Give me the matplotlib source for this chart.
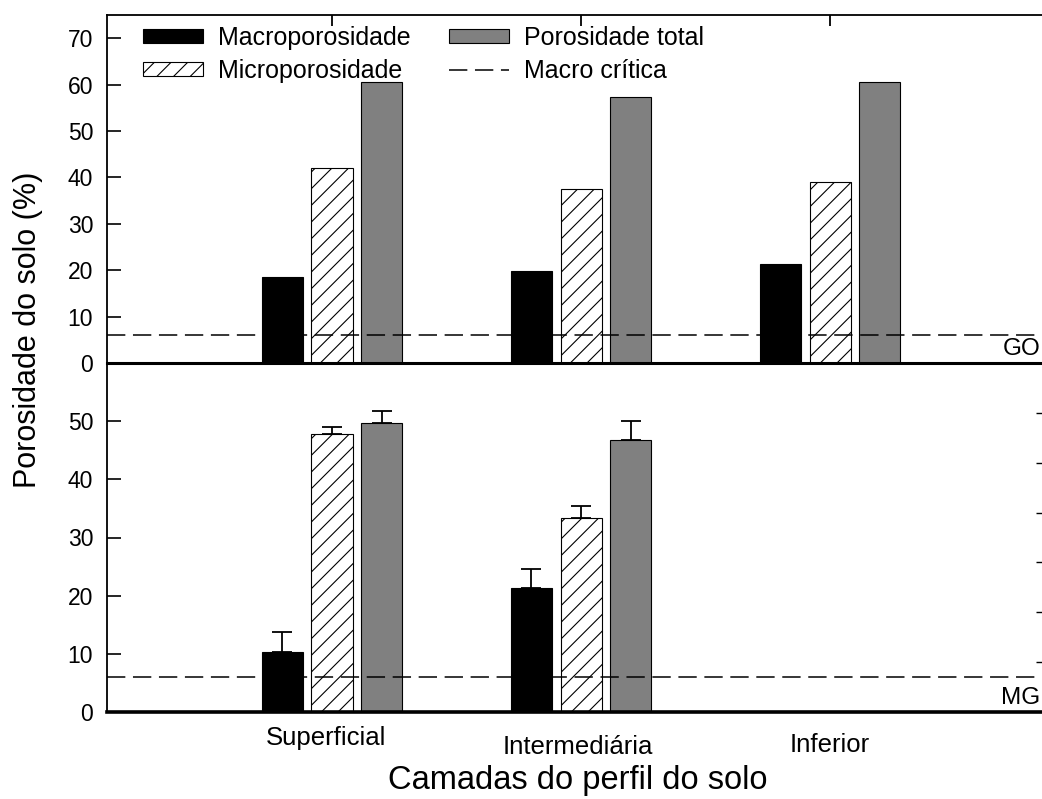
import matplotlib
matplotlib.use("Agg")
import matplotlib.pyplot as plt
import matplotlib.transforms as mtransforms
import numpy as np
from matplotlib.patches import Patch
from matplotlib.lines import Line2D

plt.rcParams['font.family'] = ['Liberation Sans', 'DejaVu Sans']
plt.rcParams['hatch.linewidth'] = 0.8

# ---- data ----
categories = ["Superficial", "Intermediária", "Inferior"]
series_names = ["Macroporosidade", "Microporosidade", "Porosidade total"]
go_macro = [18.5, 19.8, 21.3]
go_micro = [42.0, 37.5, 39.0]
go_total = [60.5, 57.3, 60.5]
mg_macro = [10.4, 21.4, np.nan]
mg_micro = [47.8, 33.4, np.nan]
mg_total = [49.7, 46.8, np.nan]
mg_macro_err = [3.3, 3.1, np.nan]
mg_micro_err = [1.2, 2.0, np.nan]
mg_total_err = [2.0, 3.2, np.nan]
macro_critica = 6.0
top_yticks = [0, 10, 20, 30, 40, 50, 60, 70]
bottom_yticks = [0, 10, 20, 30, 40, 50]
right_yticks = [10, 20, 30, 40, 50, 60]
panel_labels = ["GO", "MG"]

W, H = 1042, 799
fig = plt.figure(figsize=(W / 100, H / 100), dpi=100)

left = 107 / W
right = 1.0
ax_bot = fig.add_axes([left, 1 - 712 / H, right - left, (712 - 363) / H])
ax_top = fig.add_axes([left, 1 - 363 / H, right - left, (363 - 15) / H])
ax_top.patch.set_visible(False)

x = np.arange(1, len(categories) + 1)
off = 0.199
bw = 0.165
HATCH = '//'
styles = [dict(color='black', edgecolor='black'),
          dict(color='white', edgecolor='black', hatch=HATCH),
          dict(color='#808080', edgecolor='black')]

for ax, data in [(ax_top, [go_macro, go_micro, go_total]),
                 (ax_bot, [mg_macro, mg_micro, mg_total])]:
    for i, (vals, st) in enumerate(zip(data, styles)):
        ax.bar(x + (i - 1) * off, vals, width=bw, linewidth=0.8, zorder=2, **st)
    ax.axhline(macro_critica, color='black', lw=1.1, ls=(0, (12, 5)), zorder=3)
    ax.set_xlim(0.0964, 3.851)
    ax.spines['right'].set_visible(False)
    ax.spines['left'].set_linewidth(1.3)
    ax.tick_params(axis='y', direction='in', length=10, width=1.2, pad=10,
                   labelsize=16.5)

# error bars (upper only)
for i, (vals, err) in enumerate(zip([mg_macro, mg_micro, mg_total],
                                    [mg_macro_err, mg_micro_err, mg_total_err])):
    err = np.array(err)
    ax_bot.errorbar(x + (i - 1) * off, vals, yerr=[np.zeros_like(err), err],
                    fmt='none', ecolor='black', elinewidth=1.3, capsize=7,
                    capthick=1.3, zorder=4)

# top panel axes
ax_top.set_ylim(0, 75)
ax_top.set_yticks(top_yticks)
ax_top.spines['top'].set_linewidth(1.3)
ax_top.spines['bottom'].set_linewidth(2.2)
ax_top.set_xticks(x)
ax_top.tick_params(axis='x', which='both', direction='in', length=8, width=1.3,
                   top=True, bottom=False, labeltop=False, labelbottom=False)

# bottom panel axes
ax_bot.set_ylim(0, 60)
ax_bot.set_yticks(bottom_yticks)
ax_bot.spines['top'].set_visible(False)
ax_bot.spines['bottom'].set_linewidth(2.6)
ax_bot.set_xticks(x)
ax_bot.set_xticklabels([])
ax_bot.tick_params(axis='x', length=0)

# staggered category labels
label_y_px = [738, 747, 745]
label_x = [0.975, 1.985, 3.0]
lab_tr = mtransforms.blended_transform_factory(ax_bot.transData, fig.transFigure)
for xi, lab, ypx in zip(label_x, categories, label_y_px):
    ax_bot.text(xi, 1 - ypx / H, lab, transform=lab_tr,
                ha='center', va='center', fontsize=18.5)

# right-side ticks on bottom panel
ax_r = ax_bot.twinx()
ax_r.patch.set_visible(False)
ax_r.set_ylim(0, 70)
ax_r.set_yticks(right_yticks)
ax_r.tick_params(axis='y', direction='in', length=4, width=1.0, labelright=False)
for s in ax_r.spines.values():
    s.set_visible(False)

# panel labels
ax_top.text(0.998, 0.008, panel_labels[0], transform=ax_top.transAxes,
            ha='right', va='bottom', fontsize=17.5)
ax_bot.text(0.998, 0.008, panel_labels[1], transform=ax_bot.transAxes,
            ha='right', va='bottom', fontsize=17.5)

# axis labels
fig.text(28 / W, 1 - 330 / H, "Porosidade do solo (%)", rotation=90,
         ha='center', va='center', fontsize=22)
fig.text(578 / W, 1 - 780 / H, "Camadas do perfil do solo",
         ha='center', va='center', fontsize=23.5)

# legend
handles = [Patch(facecolor='black', edgecolor='black', lw=0.8),
           Patch(facecolor='white', edgecolor='black', hatch=HATCH, lw=0.8),
           Patch(facecolor='#808080', edgecolor='black', lw=0.8),
           Line2D([0], [0], color='black', lw=1.1, ls=(0, (12, 5)))]
labels = series_names + ["Macro crítica"]
leg = ax_top.legend(handles, labels, ncol=2, loc='upper left',
                    bbox_to_anchor=(143 / W, 1 - 26 / H),
                    bbox_transform=fig.transFigure, frameon=False, fontsize=18,
                    handlelength=2.4, handleheight=0.45, handletextpad=0.6,
                    columnspacing=1.55, labelspacing=0.35, borderpad=0,
                    borderaxespad=0)
leg.set_zorder(0.5)

fig.savefig("out.png", dpi=100)
